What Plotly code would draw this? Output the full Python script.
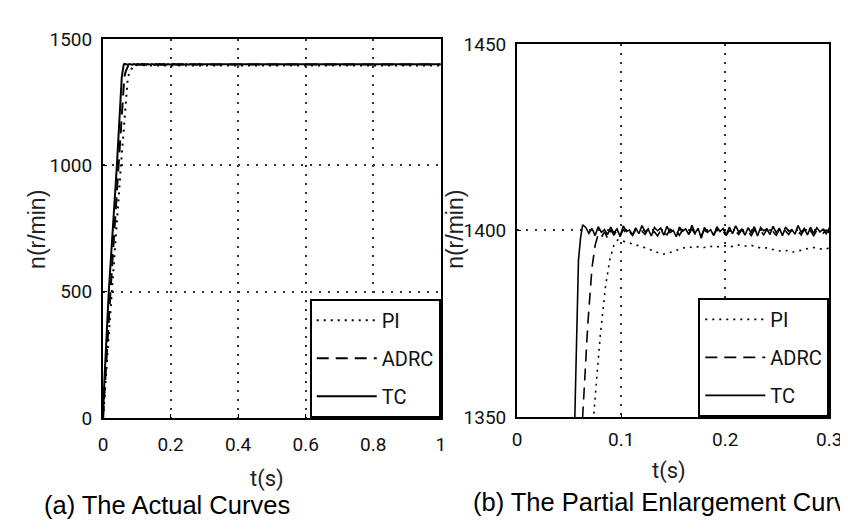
import plotly.graph_objects as go

# ---------------- data ----------------
tc_t = [0.0, 0.003, 0.017, 0.041, 0.0555, 0.059, 0.061, 0.063,
        0.066, 0.069, 0.072, 0.075, 0.078, 0.081, 0.084, 0.087, 0.090, 0.093,
        0.096, 0.099, 0.102, 0.105, 0.108, 0.111, 0.114, 0.117, 0.120, 0.123,
        0.126, 0.129, 0.132, 0.135, 0.138, 0.141, 0.144, 0.147, 0.150, 0.153,
        0.156, 0.159, 0.162, 0.165, 0.168, 0.171, 0.174, 0.177, 0.180, 0.183,
        0.186, 0.189, 0.192, 0.195, 0.198, 0.201, 0.204, 0.207, 0.210, 0.213,
        0.216, 0.219, 0.222, 0.225, 0.228, 0.231, 0.234, 0.237, 0.240, 0.243,
        0.246, 0.249, 0.252, 0.255, 0.258, 0.261, 0.264, 0.267, 0.270, 0.273,
        0.276, 0.279, 0.282, 0.285, 0.288, 0.291, 0.294, 0.297, 0.300,
        0.40, 0.50, 0.60, 0.70, 0.80, 0.90, 1.00]
tc_n = [0, 120, 500, 1000, 1350, 1392, 1398, 1401.5,
        1400.8, 1399.2, 1400.5, 1398.6, 1401.0, 1399.5, 1400.2, 1398.9, 1400.9, 1399.3,
        1400.4, 1398.4, 1401.2, 1399.7, 1400.1, 1398.8, 1400.7, 1399.1, 1401.3, 1399.6,
        1400.3, 1398.5, 1400.8, 1399.9, 1400.6, 1398.7, 1401.1, 1399.4, 1400.0, 1398.3,
        1400.9, 1399.8, 1400.4, 1398.9, 1401.4, 1399.2, 1400.6, 1397.9, 1400.8, 1399.5,
        1400.2, 1398.6, 1401.0, 1399.7, 1400.5, 1398.8, 1400.9, 1399.1, 1401.2, 1399.6,
        1400.3, 1398.7, 1400.7, 1399.3, 1401.0, 1398.5, 1400.8, 1399.9, 1400.4, 1398.9,
        1401.1, 1399.4, 1400.6, 1398.6, 1400.9, 1399.8, 1400.2, 1399.0, 1401.3, 1399.5,
        1400.5, 1398.8, 1400.8, 1399.2, 1400.7, 1399.6, 1400.3, 1399.1, 1400.6,
        1400.0, 1399.8, 1400.1, 1399.9, 1400.0, 1400.1, 1399.9]

adrc_t = [0.0, 0.004, 0.022, 0.046, 0.063, 0.068, 0.072, 0.075, 0.078,
          0.081, 0.084, 0.087, 0.090, 0.093, 0.096, 0.099, 0.102, 0.105, 0.108,
          0.111, 0.114, 0.117, 0.120, 0.123, 0.126, 0.129, 0.132, 0.135, 0.138,
          0.141, 0.144, 0.147, 0.150, 0.153, 0.156, 0.159, 0.162, 0.165, 0.168,
          0.171, 0.174, 0.177, 0.180, 0.183, 0.186, 0.189, 0.192, 0.195, 0.198,
          0.201, 0.204, 0.207, 0.210, 0.213, 0.216, 0.219, 0.222, 0.225, 0.228,
          0.231, 0.234, 0.237, 0.240, 0.243, 0.246, 0.249, 0.252, 0.255, 0.258,
          0.261, 0.264, 0.267, 0.270, 0.273, 0.276, 0.279, 0.282, 0.285, 0.288,
          0.291, 0.294, 0.297, 0.300,
          0.40, 0.50, 0.60, 0.70, 0.80, 0.90, 1.00]
adrc_n = [0, 100, 500, 1000, 1350, 1375, 1390, 1396, 1399,
          1398.2, 1399.6, 1397.9, 1400.1, 1398.8, 1399.9, 1398.4, 1400.3, 1399.0, 1399.7,
          1398.6, 1400.2, 1399.3, 1399.8, 1398.9, 1400.4, 1399.1, 1399.6, 1398.5, 1400.0,
          1399.4, 1398.8, 1400.3, 1399.2, 1399.9, 1398.7, 1400.1, 1399.5, 1398.9, 1400.4,
          1399.0, 1399.7, 1398.6, 1400.2, 1399.3, 1399.9, 1398.8, 1400.3, 1399.1, 1399.6,
          1398.7, 1400.0, 1399.4, 1399.8, 1398.9, 1400.2, 1399.2, 1399.7, 1398.6, 1400.1,
          1399.5, 1399.9, 1398.8, 1400.3, 1399.0, 1399.6, 1398.7, 1400.2, 1399.3, 1399.8,
          1398.9, 1400.1, 1399.4, 1399.7, 1398.8, 1400.3, 1399.1, 1399.9, 1398.6, 1400.0,
          1399.5, 1399.2, 1400.1, 1399.4,
          1399.6, 1399.5, 1399.7, 1399.6, 1399.5, 1399.6, 1399.6]

pi_t = [0.0, 0.005, 0.026, 0.053, 0.0735, 0.080, 0.085, 0.089, 0.093, 0.097,
        0.101, 0.106, 0.111, 0.115, 0.120, 0.125, 0.130, 0.135, 0.140, 0.145,
        0.150, 0.155, 0.160, 0.165, 0.170, 0.175, 0.180, 0.185, 0.190, 0.195,
        0.200, 0.205, 0.210, 0.215, 0.220, 0.225, 0.230, 0.235, 0.240, 0.245,
        0.250, 0.255, 0.260, 0.265, 0.270, 0.275, 0.280, 0.285, 0.290, 0.295,
        0.300, 0.40, 0.50, 0.60, 0.70, 0.80, 0.90, 1.00]
pi_n = [0, 100, 500, 1000, 1350, 1372, 1385, 1392, 1396, 1397.5,
        1397.2, 1396.8, 1396.5, 1396.2, 1395.8, 1395.2, 1394.6, 1394.0, 1393.6, 1393.9,
        1394.4, 1394.9, 1395.3, 1395.6, 1395.3, 1395.7, 1395.4, 1395.8, 1395.5, 1395.7,
        1395.9, 1395.6, 1396.0, 1396.1, 1395.8, 1396.0, 1395.5, 1395.2, 1395.3, 1394.9,
        1394.6, 1394.4, 1394.6, 1394.2, 1394.4, 1394.8, 1395.2, 1395.4, 1395.1, 1394.9,
        1395.3, 1395.2, 1395.0, 1395.1, 1395.0, 1395.2, 1395.1, 1395.0]

series_names = ["PI", "ADRC", "TC"]

left_xticks = [0, 0.2, 0.4, 0.6, 0.8, 1]
left_xticktext = ["0", "0.2", "0.4", "0.6", "0.8", "1"]
left_yticks = [0, 500, 1000, 1500]
left_yticktext = ["0", "500", "1000", "1500"]
right_xticks = [0, 0.1, 0.2, 0.3]
right_xticktext = ["0", "0.1", "0.2", "0.3"]
right_yticks = [1350, 1400, 1450]
right_yticktext = ["1350", "1400", "1450"]

caption_a = "(a) The Actual Curves"
caption_b = "(b) The Partial Enlargement Curves"
x_title = "t(s)"
y_title = "n(r/min)"

# ---------------- figure ----------------
W, H = 848, 529
NARROW = "Roboto, Liberation Sans, Arial, sans-serif"
REG = "Liberation Sans, Arial, sans-serif"

def px(x):
    return x / W

def py(y):
    return 1 - y / H

fig = go.Figure()

styles = {"PI": "2px,5px", "ADRC": "12px,7px", "TC": "solid"}
data = {"PI": (pi_t, pi_n), "ADRC": (adrc_t, adrc_n), "TC": (tc_t, tc_n)}
for name in series_names:
    t, n = data[name]
    fig.add_trace(go.Scatter(x=t, y=n, mode="lines", name=name,
                             line=dict(color="black", width=2, dash=styles[name]),
                             xaxis="x", yaxis="y", legend="legend",
                             legendgroup="a" + name))
for name in series_names:
    t, n = data[name]
    fig.add_trace(go.Scatter(x=t, y=n, mode="lines", name=name,
                             line=dict(color="black", width=1.6, dash=styles[name]),
                             xaxis="x2", yaxis="y2", legend="legend2",
                             legendgroup="b" + name))

axis_common = dict(showline=True, mirror=True, linecolor="black", linewidth=2,
                   ticks="inside", ticklen=4, tickcolor="black",
                   showgrid=True, gridcolor="#333", griddash="2px,7px", gridwidth=1.6,
                   zeroline=False, tickfont=dict(family=NARROW, size=19, color="#111"))

legend_common = dict(bgcolor="white", bordercolor="black", borderwidth=2,
                     font=dict(family=NARROW, size=20, color="#111"),
                     xanchor="right", yanchor="bottom", tracegroupgap=9,
                     itemwidth=60)

fig.update_layout(
    width=W, height=H,
    margin=dict(l=0, r=0, t=0, b=0),
    paper_bgcolor="white", plot_bgcolor="white",
    xaxis=dict(domain=[px(92), px(437)], range=[0, 1], tickvals=left_xticks,
               ticktext=left_xticktext, anchor="y", ticklabelstandoff=8, **axis_common),
    yaxis=dict(domain=[py(417), py(21)], range=[0, 1500], tickvals=left_yticks,
               ticktext=left_yticktext, anchor="x", ticklabelstandoff=5, **axis_common),
    xaxis2=dict(domain=[px(515), px(834)], range=[0, 0.3], tickvals=right_xticks,
                ticktext=right_xticktext, anchor="y2", ticklabelstandoff=4, **axis_common),
    yaxis2=dict(domain=[py(416), py(26)], range=[1350, 1450], tickvals=right_yticks,
                ticktext=right_yticktext, anchor="x2", ticklabelstandoff=5, **axis_common),
    legend=dict(x=px(437), y=py(417), **legend_common),
    legend2=dict(x=px(834), y=py(416), **legend_common),
    showlegend=True,
)

ann = [
    dict(text=y_title, x=px(25), y=py(220), textangle=-90, font=dict(family=REG, size=23, color="#222")),
    dict(text=y_title, x=px(452), y=py(220), textangle=-90, font=dict(family=REG, size=23, color="#222")),
    dict(text=x_title, x=px(260), y=py(481), font=dict(family=NARROW, size=22, color="#222")),
    dict(text=x_title, x=px(670), y=py(473), font=dict(family=NARROW, size=22, color="#222")),
]
for a in ann:
    fig.add_annotation(xref="paper", yref="paper", showarrow=False,
                       xanchor="center", yanchor="middle", **a)
fig.add_annotation(text=caption_a, xref="paper", yref="paper", x=px(30), y=py(508),
                   xanchor="left", yanchor="middle", showarrow=False,
                   font=dict(family=REG, size=25.5, color="black"))
fig.add_annotation(text=caption_b, xref="paper", yref="paper", x=px(468), y=py(505),
                   xanchor="left", yanchor="middle", showarrow=False,
                   font=dict(family=REG, size=25.5, color="black"))

fig.write_html("out.html")
